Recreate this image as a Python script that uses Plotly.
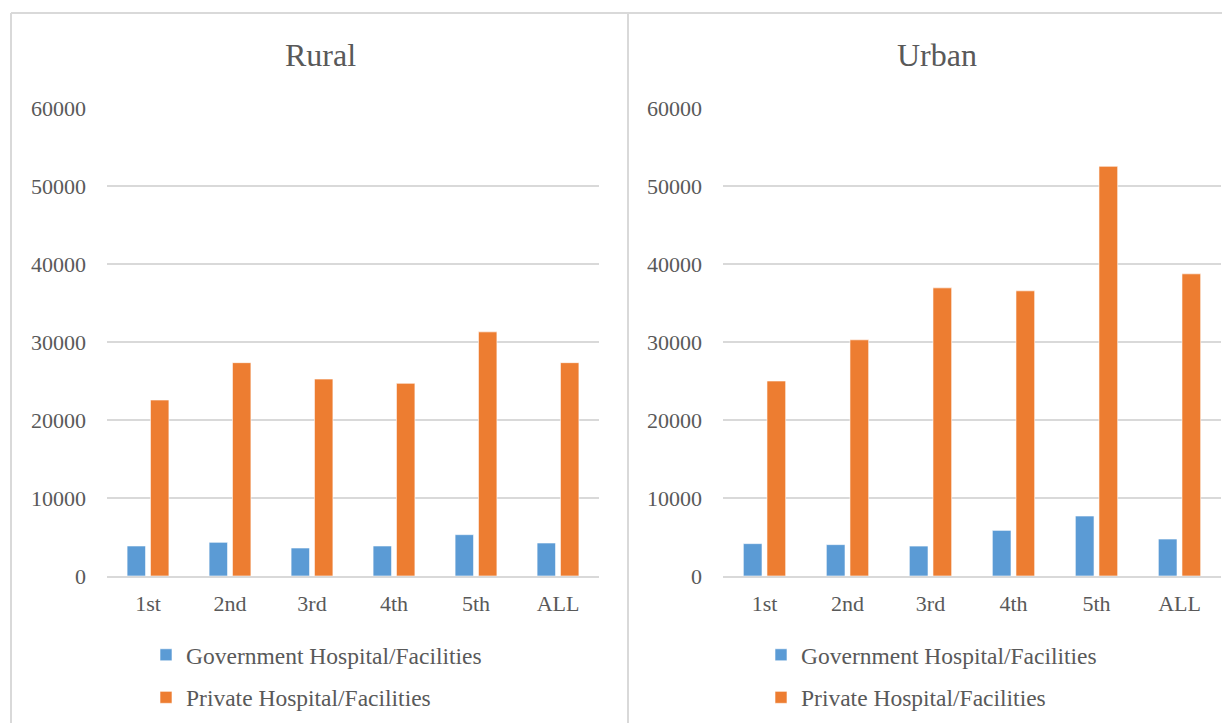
import plotly.graph_objects as go

# the page body has an 8px margin, so the figure is a bit smaller than the window
OFF = 8
W, H = 1230 - OFF, 723 - OFF

CATEGORIES = ["1st", "2nd", "3rd", "4th", "5th", "ALL"]
RURAL_GOV = [3850, 4320, 3590, 3850, 5300, 4230]
RURAL_PRIV = [22560, 27350, 25250, 24700, 31300, 27350]
URBAN_GOV = [4150, 4020, 3840, 5850, 7690, 4740]
URBAN_PRIV = [25000, 30280, 36940, 36560, 52520, 38740]
SERIES_NAMES = ["Government Hospital/Facilities", "Private Hospital/Facilities"]
PANEL_TITLES = ["Rural", "Urban"]

BLUE = "#5B9BD5"
ORANGE = "#ED7D31"
INK = "#595959"
GRID = "#d9d9d9"
FONT = "Liberation Serif"


def px(x):
    return (x - OFF) / W


def py(y):
    return 1 - (y - OFF) / H


fig = go.Figure()

panels = [
    ("x", "y", "legend", RURAL_GOV, RURAL_PRIV),
    ("x2", "y2", "legend2", URBAN_GOV, URBAN_PRIV),
]
for xa, ya, leg, gov, priv in panels:
    for name, vals, color in ((SERIES_NAMES[0], gov, BLUE), (SERIES_NAMES[1], priv, ORANGE)):
        fig.add_bar(x=CATEGORIES, y=vals, name=name, xaxis=xa, yaxis=ya,
                    legend=leg, legendgroup=f"{leg}-{name}",
                    marker=dict(color=color, line=dict(color="white", width=0.6)))

axis_common = dict(showgrid=False, showline=True, linecolor=GRID, linewidth=2,
                   ticks="", tickfont=dict(family=FONT, size=22, color=INK),
                   ticklabelstandoff=7, fixedrange=True, automargin=False)
yaxis_common = dict(range=[0, 60000], dtick=10000, tickformat="d", showgrid=True,
                    gridcolor=GRID, gridwidth=2, zeroline=False, showline=False,
                    ticks="", tickfont=dict(family=FONT, size=22, color=INK),
                    ticklabelstandoff=20, fixedrange=True, automargin=False)

legend_common = dict(orientation="v", bgcolor="rgba(0,0,0,0)", tracegroupgap=9,
                     font=dict(family=FONT, size=23.5, color=INK),
                     xanchor="left", yanchor="top", itemclick=False)

fig.update_layout(
    width=W, height=H,
    margin=dict(l=0, r=0, t=0, b=0),
    paper_bgcolor="white", plot_bgcolor="white",
    barmode="group", bargap=0.43, bargroupgap=0.21,
    xaxis=dict(domain=[px(107), px(599)], anchor="y", **axis_common),
    yaxis=dict(domain=[py(576), py(108)], anchor="x", **yaxis_common),
    xaxis2=dict(domain=[px(723), px(1221)], anchor="y2", **axis_common),
    yaxis2=dict(domain=[py(576), py(108)], anchor="x2", **yaxis_common),
    legend=dict(x=px(146), y=py(633), **legend_common),
    legend2=dict(x=px(761), y=py(633), **legend_common),
    shapes=[
        dict(type="line", xref="paper", yref="paper", x0=px(11), x1=1.0,
             y0=py(13), y1=py(13), line=dict(color=GRID, width=2)),
        dict(type="line", xref="paper", yref="paper", x0=px(11), x1=px(11),
             y0=py(13), y1=0, line=dict(color=GRID, width=2)),
        dict(type="line", xref="paper", yref="paper", x0=px(628), x1=px(628),
             y0=py(13), y1=0, line=dict(color=GRID, width=2)),
    ],
    annotations=[
        dict(text=PANEL_TITLES[0], xref="paper", yref="paper", x=px(320), y=py(55),
             xanchor="center", yanchor="middle", showarrow=False,
             font=dict(family=FONT, size=32, color=INK)),
        dict(text=PANEL_TITLES[1], xref="paper", yref="paper", x=px(937), y=py(55),
             xanchor="center", yanchor="middle", showarrow=False,
             font=dict(family=FONT, size=32, color=INK)),
    ],
)

fig.write_html("out.html")
